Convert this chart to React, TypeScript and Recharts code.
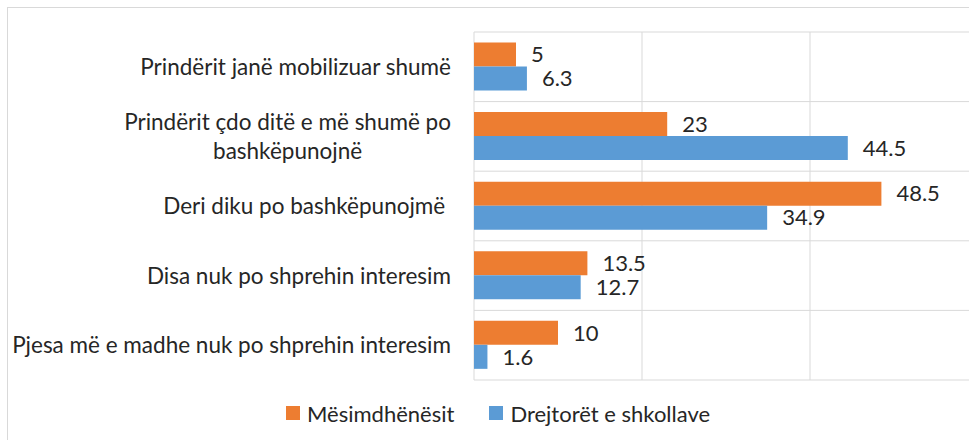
import React from "react";
import { BarChart, Bar, XAxis, YAxis, CartesianGrid, LabelList, Legend } from "recharts";

const categories: string[] = [
  "Prindërit janë mobilizuar shumë",
  "Prindërit çdo ditë e më shumë po\nbashkëpunojnë",
  "Deri diku po bashkëpunojmë ",
  "Disa nuk po shprehin interesim",
  "Pjesa më e madhe nuk po shprehin interesim",
];
const teachers: number[] = [5, 23, 48.5, 13.5, 10];
const directors: number[] = [6.3, 44.5, 34.9, 12.7, 1.6];
const xTicks: number[] = [0, 20, 40, 60];
const seriesKeys: string[] = ["teachers", "directors"];
const seriesNames: Record<string, string> = { teachers: "Mësimdhënësit", directors: "Drejtorët e shkollave" };

const data = categories.map((name, i) => ({ name, teachers: teachers[i], directors: directors[i] }));

const FONT = "Lato";
const FS = 22;
const TICK_FS = 22.5;
const TEXT = "#262626";
const ORANGE = "#ED7D31";
const BLUE = "#5B9BD5";
const GRID = "#d9d9d9";

let ctx: CanvasRenderingContext2D | null = null;
const measure = (s: string) => {
  if (!ctx) ctx = document.createElement("canvas").getContext("2d");
  if (!ctx) return s.length * TICK_FS * 0.5;
  ctx.font = `${TICK_FS}px ${FONT}`;
  return ctx.measureText(s).width;
};

const CategoryTick = (props: any) => {
  const { x, y, payload } = props;
  const lines: string[] = String(payload.value).split("\n");
  const lh = 29;
  if (lines.length === 1) {
    return (
      <text x={x} y={y} dy="0.36em" textAnchor="end" fontFamily={FONT} fontSize={TICK_FS} fill={TEXT} style={{ whiteSpace: "pre" }}>
        {lines[0]}
      </text>
    );
  }
  const maxW = Math.max(...lines.map(measure));
  const cx = x - maxW / 2;
  return (
    <text x={cx} y={y} textAnchor="middle" fontFamily={FONT} fontSize={TICK_FS} fill={TEXT} style={{ whiteSpace: "pre" }}>
      {lines.map((l, i) => (
        <tspan key={i} x={cx} y={y + (i - (lines.length - 1) / 2) * lh} dy="0.36em">
          {l}
        </tspan>
      ))}
    </text>
  );
};

const LegendContent = (props: any) => {
  const payload: any[] = [...(props.payload || [])].sort(
    (a, b) => seriesKeys.indexOf(a.dataKey) - seriesKeys.indexOf(b.dataKey)
  );
  return (
    <div style={{ display: "flex", alignItems: "center", height: 28, fontFamily: FONT, fontSize: FS, color: TEXT, whiteSpace: "nowrap" }}>
      {payload.map((p: any, i: number) => (
        <div key={i} style={{ display: "flex", alignItems: "center", marginRight: 35 }}>
          <div style={{ width: 14, height: 14, background: p.color, marginRight: 7 }} />
          <span>{p.value}</span>
        </div>
      ))}
    </div>
  );
};

export default function App() {
  const n = categories.length;
  return (
    <div
      style={{
        position: "absolute",
        left: 7,
        top: 7,
        width: 962,
        height: 433,
        boxSizing: "border-box",
        borderTop: `1px solid ${GRID}`,
        borderLeft: `1px solid ${GRID}`,
        overflow: "hidden",
        background: "#fff",
      }}
    >
      <BarChart
        width={1010}
        height={432}
        data={data}
        layout="vertical"
        margin={{ top: 24, right: 40, bottom: 60, left: 0 }}
        barCategoryGap="15%"
        barGap={0}
      >
        <CartesianGrid
          stroke={GRID}
          strokeWidth={1}
          horizontalCoordinatesGenerator={({ offset }: any) =>
            Array.from({ length: n + 1 }, (_, i) => offset.top + (i * offset.height) / n)
          }
        />
        <XAxis type="number" domain={[0, 60]} ticks={xTicks} hide />
        <YAxis
          type="category"
          dataKey="name"
          width={466}
          axisLine={false}
          tickLine={false}
          tickSize={0}
          tickMargin={23}
          interval={0}
          tick={<CategoryTick />}
        />
        <Legend
          layout="horizontal"
          verticalAlign="middle"
          align="center"
          wrapperStyle={{ top: 391, left: 278, width: "auto" }}
          content={<LegendContent />}
        />
        {seriesKeys.map((k) => (
          <Bar key={k} dataKey={k} name={seriesNames[k]} fill={k === "teachers" ? ORANGE : BLUE} isAnimationActive={false}>
            <LabelList dataKey={k} position="right" offset={15} fill={TEXT} fontSize={FS} fontFamily={FONT} />
          </Bar>
        ))}
      </BarChart>
    </div>
  );
}
